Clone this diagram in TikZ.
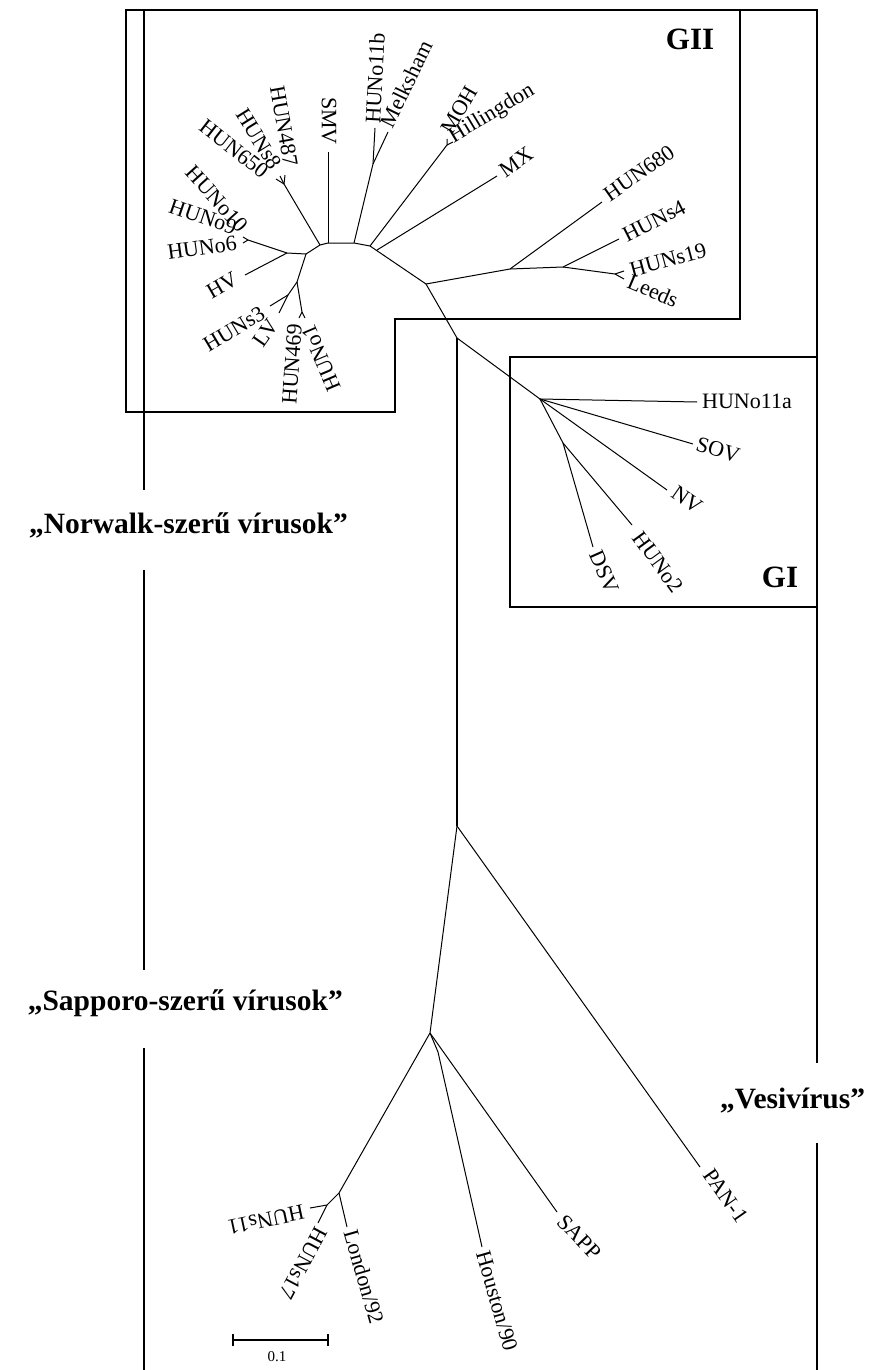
\documentclass[tikz,border=0pt]{standalone}
\usepackage{fontspec}
\setmainfont{Liberation Serif}
\begin{document}
\begin{tikzpicture}[x=1pt,y=-1pt,
  br/.style={line width=1pt},
  mainbr/.style={line width=1.8pt},
  frm/.style={line width=2.2pt},
  lab/.style={font=\fontsize{22}{22}\selectfont, inner sep=0pt},
  small/.style={font=\fontsize{15}{15}\selectfont, inner sep=0pt},
  big/.style={font=\fontsize{29.5}{29.5}\selectfont\bfseries, inner sep=0pt},
  grp/.style={font=\fontsize{31}{31}\selectfont\bfseries, inner sep=0pt}]
\useasboundingbox (0,0) rectangle (881,1370);
% ---------- frames ----------
\draw[frm] (126,10) -- (740,10) -- (740,319) -- (395,319) -- (395,412) -- (126,412) -- cycle;
\draw[frm] (144,490) -- (144,10) -- (817,10) -- (817,1063);
\draw[frm] (144,570) -- (144,970);
\draw[frm] (144,1048) -- (144,1370);
\draw[frm] (817,1143) -- (817,1370);
\draw[frm] (510,357) rectangle (817,607);
% ---------- tree nodes ----------
\coordinate (A) at (320,245);
\coordinate (B) at (287,253);
\coordinate (R) at (306,254);
\coordinate (Q) at (248,240);
\coordinate (q1) at (243,237);
\coordinate (q2) at (243,243);
\coordinate (hv) at (245,275);
\coordinate (C) at (297,282);
\coordinate (D) at (288,295);
\coordinate (s3) at (270,306);
\coordinate (lv) at (279,313);
\coordinate (S) at (302,312);
\coordinate (s469) at (299,318);
\coordinate (so1) at (305,318);
\coordinate (T) at (284,184);
\coordinate (t650) at (276,179);
\coordinate (ts8) at (280,176);
\coordinate (t487) at (285,175);
\coordinate (U) at (328,243);
\coordinate (smv) at (328,152);
\coordinate (E) at (354,243);
\coordinate (F) at (373,164);
\coordinate (o11b) at (375,128);
\coordinate (mel) at (388,132);
\coordinate (V) at (370,246);
\coordinate (W) at (447,145);
\coordinate (moh) at (447,139);
\coordinate (hil) at (453,142);
\coordinate (MXb) at (377,250);
\coordinate (mx) at (497,176);
\coordinate (G) at (426,284);
\coordinate (H) at (510,269);
\coordinate (h680) at (602,202);
\coordinate (I) at (563,267);
\coordinate (s4) at (619,239);
\coordinate (J) at (615,274);
\coordinate (s19) at (624,271);
\coordinate (leeds) at (624,279);
\coordinate (X) at (457,338);
\coordinate (Y) at (457,826);
\coordinate (P) at (540,399);
\coordinate (o11a) at (697,402);
\coordinate (sov) at (693,444);
\coordinate (nv) at (667,490);
\coordinate (O) at (563,443);
\coordinate (o2) at (632,525);
\coordinate (dsv) at (593,547);
\coordinate (K) at (430,1033);
\coordinate (L) at (339,1193);
\coordinate (M) at (327,1205);
\coordinate (s11) at (310,1208);
\coordinate (s17) at (318,1223);
\coordinate (lon) at (347,1227);
\coordinate (N) at (438,1052);
\coordinate (hou) at (482,1247);
\coordinate (sapp) at (557,1212);
\coordinate (pan) at (700,1167);
\coordinate (sb1) at (233,1340);
\coordinate (sb2) at (328,1340);
% ---------- branches ----------
\draw[br] (B) -- (R) -- (A) -- (U) -- (E) -- (V) -- (G);
\draw[br] (B) -- (Q) -- (q1); \draw[br] (Q) -- (q2);
\draw[br] (B) -- (hv);
\draw[br] (R) -- (C) -- (D) -- (s3); \draw[br] (D) -- (lv);
\draw[br] (C) -- (S) -- (s469); \draw[br] (S) -- (so1);
\draw[br] (A) -- (T) -- (t650); \draw[br] (T) -- (ts8); \draw[br] (T) -- (t487);
\draw[br] (U) -- (smv);
\draw[br] (E) -- (F) -- (o11b); \draw[br] (F) -- (mel);
\draw[br] (V) -- (W) -- (moh); \draw[br] (W) -- (hil);
\draw[br] (MXb) -- (mx);
\draw[br] (G) -- (H) -- (h680); \draw[br] (H) -- (I) -- (s4);
\draw[br] (I) -- (J) -- (s19); \draw[br] (J) -- (leeds);
\draw[br] (G) -- (X);
\draw[mainbr] (X) -- (Y);
\draw[br] (X) -- (P) -- (o11a); \draw[br] (P) -- (sov); \draw[br] (P) -- (nv);
\draw[br] (P) -- (O) -- (o2); \draw[br] (O) -- (dsv);
\draw[br] (Y) -- (K) -- (L) -- (M) -- (s11); \draw[br] (M) -- (s17);
\draw[br] (L) -- (lon);
\draw[br] (K) -- (N) -- (hou); \draw[br] (K) -- (sapp);
\draw[br] (Y) -- (pan);
% scale bar
\draw[line width=1.8pt] (sb1) -- (sb2);
\draw[line width=1.8pt] ([yshift=-6pt]sb1) -- ([yshift=6pt]sb1);
\draw[line width=1.8pt] ([yshift=-6pt]sb2) -- ([yshift=6pt]sb2);
\node[small] (sbl) at (277,1357) {0.1};
% ---------- leaf labels ----------
\node[lab,rotate=-38] (l650) at (234,149) {HUN650};
\node[lab,rotate=-58] (ls8) at (259,139) {HUNs8};
\node[lab,rotate=-80] (l487) at (284,126) {HUN487};
\node[lab,rotate=-90] (lsmv) at (329,121) {SMV};
\node[lab,rotate=87] (lo11b) at (375,78) {HUNo11b};
\node[lab,rotate=64] (lmel) at (406,84) {Melksham};
\node[lab,rotate=60] (lmoh) at (459,110) {MOH};
\node[lab,rotate=31] (lhil) at (492,114) {Hillingdon};
\node[lab,rotate=35] (lmx) at (516,162) {MX};
\node[lab,rotate=35] (l680) at (639,173) {HUN680};
\node[lab,rotate=27] (ls4) at (654,221) {HUNs4};
\node[lab,rotate=15] (ls19) at (668,260) {HUNs19};
\node[lab,rotate=-23] (lleeds) at (653,291) {Leeds};
\node[lab,rotate=-48] (lo10) at (217,199) {HUNo10};
\node[lab,rotate=-19] (lo9) at (203,217) {HUNo9};
\node[lab,rotate=8] (lo6) at (202,248) {HUNo6};
\node[lab,rotate=30] (lhv) at (222,285) {HV};
\node[lab,rotate=31] (ls3) at (234,329) {HUNs3};
\node[lab,rotate=55] (llv) at (266,333) {LV};
\node[lab,rotate=86] (l469) at (292,364) {HUN469};
\node[lab,rotate=113] (lo1) at (321,358) {HUNo1};
\node[lab,rotate=0] (lo11a) at (747,401) {HUNo11a};
\node[lab,rotate=-17] (lsov) at (718,450) {SOV};
\node[lab,rotate=-35] (lnv) at (687,500) {NV};
\node[lab,rotate=-54] (lo2) at (658,562) {HUNo2};
\node[lab,rotate=-66] (ldsv) at (604,572) {DSV};
\node[lab,rotate=192] (ls11) at (266,1220) {HUNs11};
\node[lab,rotate=242] (ls17) at (303,1263) {HUNs17};
\node[lab,rotate=-74] (llon) at (364,1277) {London/92};
\node[lab,rotate=-74] (lhou) at (497,1301) {Houston/90};
\node[lab,rotate=-46] (lsapp) at (579,1237) {SAPP};
\node[lab,rotate=-55] (lpan) at (726,1196) {PAN-1};
% ---------- group labels ----------
\node[grp] (gii) at (690,39) {GII};
\node[grp] (gi) at (780,577) {GI};
\node[big,anchor=base east] (norw) at (348,533) {„Norwalk-szerű vírusok”};
\node[big,anchor=base east] (sapl) at (343,1010) {„Sapporo-szerű vírusok”};
\node[big,anchor=base west] (vesl) at (720,1108) {„Vesivírus”};
\end{tikzpicture}
\end{document}
